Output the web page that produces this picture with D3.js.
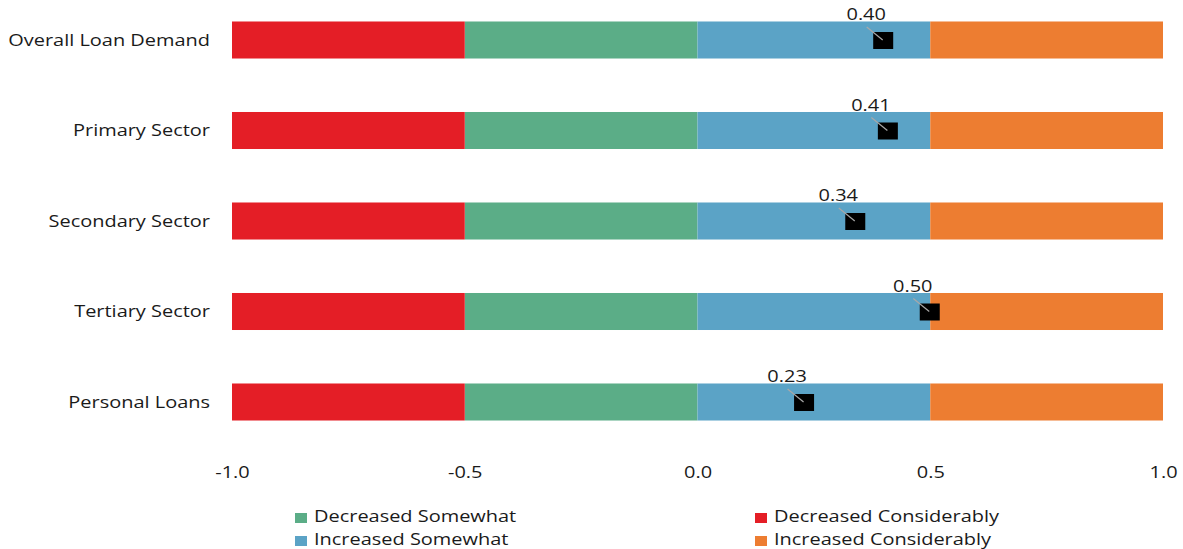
<!DOCTYPE html>
<html>
<head>
<meta charset="utf-8">
<script src="https://cdn.jsdelivr.net/npm/d3@7"></script>
<style>
  html, body { margin: 0; padding: 0; background: #fff; }
  svg { display: block; }
</style>
</head>
<body>
<svg id="chart" width="1183" height="549"></svg>
<script>
// Loan demand categories, top to bottom
const categories = ["Overall Loan Demand", "Primary Sector", "Secondary Sector", "Tertiary Sector", "Personal Loans"];

// Share of responses in each band (diverging around zero)
const decreasedConsiderably = [0.5, 0.5, 0.5, 0.5, 0.5];
const decreasedSomewhat     = [0.5, 0.5, 0.5, 0.5, 0.5];
const increasedSomewhat     = [0.5, 0.5, 0.5, 0.5, 0.5];
const increasedConsiderably = [0.5, 0.5, 0.5, 0.5, 0.5];

// Net balance index per category
const netBalance = [0.40, 0.41, 0.34, 0.50, 0.23];

const xTicks = [-1.0, -0.5, 0.0, 0.5, 1.0];

const colors = {
  decCons: "#E41E26",
  decSome: "#5BAD87",
  incSome: "#5BA3C6",
  incCons: "#ED7D31"
};

const FONT = "Open Sans, sans-serif";
const TEXT_COLOR = "#1a1a1a";
const STRETCH = 1.21; // horizontal widening of the type

const svg = d3.select("#chart");
const plotLeft = 232, plotRight = 1163, plotTop = -5.25, plotBottom = 447.25;

const x = d3.scaleLinear().domain([-1, 1]).range([plotLeft, plotRight]);
const y = d3.scaleBand().domain(categories).range([plotTop, plotBottom]).paddingInner(0.591).paddingOuter(0.2955);
const cy = d => y(d) + y.bandwidth() / 2;

// Build diverging segments: negative bands stack leftward, positive rightward
const segments = [];
categories.forEach((c, i) => {
  const dS = decreasedSomewhat[i], dC = decreasedConsiderably[i];
  const iS = increasedSomewhat[i], iC = increasedConsiderably[i];
  segments.push({ cat: c, x0: -dS, x1: 0, color: colors.decSome });
  segments.push({ cat: c, x0: -dS - dC, x1: -dS, color: colors.decCons });
  segments.push({ cat: c, x0: 0, x1: iS, color: colors.incSome });
  segments.push({ cat: c, x0: iS, x1: iS + iC, color: colors.incCons });
});

svg.append("g").selectAll("rect").data(segments).join("rect")
  .attr("x", d => x(d.x0))
  .attr("width", d => x(d.x1) - x(d.x0))
  .attr("y", d => y(d.cat))
  .attr("height", y.bandwidth())
  .attr("fill", d => d.color);

// Category labels
svg.append("g").selectAll("text").data(categories).join("text")
  .attr("transform", d => `translate(210,${cy(d)}) scale(${STRETCH},1)`)
  .attr("dy", "0.35em")
  .attr("text-anchor", "end")
  .attr("font-family", FONT)
  .attr("font-size", 16.5)
  .attr("fill", TEXT_COLOR)
  .text(d => d);

// Net balance markers with leader lines and labels
const markers = svg.append("g").selectAll("g").data(categories).join("g");
markers.append("rect")
  .attr("x", (d, i) => x(netBalance[i]) - 10.5)
  .attr("y", d => cy(d) - 8)
  .attr("width", 20)
  .attr("height", 17)
  .attr("fill", "#000");
markers.append("line")
  .attr("x1", (d, i) => x(netBalance[i]) - 17)
  .attr("y1", d => cy(d) - 13)
  .attr("x2", (d, i) => x(netBalance[i]) - 1)
  .attr("y2", d => cy(d))
  .attr("stroke", "#a8a8a8")
  .attr("stroke-width", 1.2);
markers.append("text")
  .attr("transform", (d, i) => `translate(${x(netBalance[i]) - 17.5},${cy(d) - 20}) scale(${STRETCH},1)`)
  .attr("text-anchor", "middle")
  .attr("font-family", FONT)
  .attr("font-size", 16.5)
  .attr("fill", TEXT_COLOR)
  .text((d, i) => netBalance[i].toFixed(2));

// X axis tick labels (plain hyphen for negatives)
const fmt = v => (v < 0 ? "-" : "") + Math.abs(v).toFixed(1);
const axis = d3.axisBottom(x).tickValues(xTicks).tickFormat(fmt).tickSize(0).tickPadding(0);
const gAxis = svg.append("g").attr("transform", "translate(0,478)").call(axis);
gAxis.select(".domain").remove();
gAxis.selectAll("text")
  .attr("y", 0)
  .attr("dy", 0)
  .attr("transform", `scale(${STRETCH},1)`)
  .attr("font-family", FONT)
  .attr("font-size", 16.5)
  .attr("fill", TEXT_COLOR);

// Legend
const legendItems = [
  { label: "Decreased Somewhat", color: colors.decSome, lx: 295, ly: 522 },
  { label: "Decreased Considerably", color: colors.decCons, lx: 755, ly: 522 },
  { label: "Increased Somewhat", color: colors.incSome, lx: 295, ly: 545 },
  { label: "Increased Considerably", color: colors.incCons, lx: 755, ly: 545 }
];
const lg = svg.append("g").selectAll("g").data(legendItems).join("g")
  .attr("transform", d => `translate(${d.lx},${d.ly})`);
lg.append("rect").attr("x", 0).attr("y", -9).attr("width", 12).attr("height", 10).attr("fill", d => d.color);
lg.append("text")
  .attr("transform", `translate(19,0) scale(${STRETCH},1)`)
  .attr("font-family", FONT)
  .attr("font-size", 16.5)
  .attr("fill", TEXT_COLOR)
  .text(d => d.label);
</script>
</body>
</html>
